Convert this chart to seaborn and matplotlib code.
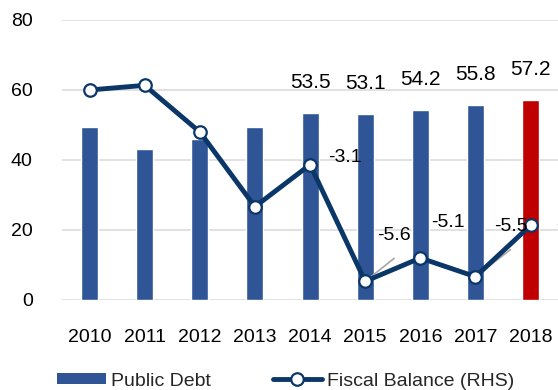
import numpy as np
import pandas as pd
import matplotlib
matplotlib.use("Agg")
import matplotlib.pyplot as plt
from matplotlib.patches import Patch
from matplotlib.lines import Line2D
import seaborn as sns

years = ["2010", "2011", "2012", "2013", "2014", "2015", "2016", "2017", "2018"]
public_debt = [49.4, 43.1, 46.0, 49.4, 53.5, 53.1, 54.2, 55.8, 57.2]
fiscal_balance = [-1.5, -1.4, -2.4, -4.0, -3.1, -5.6, -5.1, -5.5, -4.4]
debt_labels_shown = ["2014", "2015", "2016", "2017", "2018"]
fiscal_labels_shown = ["2014", "2015", "2016", "2017", "2018"]
left_ticks = [0, 20, 40, 60, 80]

BLUE = "#2F5597"
RED = "#C00000"
NAVY = "#0B3768"
GRID = "#D9D9D9"

sns.set_theme(style="white")
plt.rcParams["font.family"] = ["Liberation Sans", "DejaVu Sans"]

fig = plt.figure(figsize=(5.58, 3.90), dpi=100)
W, H = 558, 390
ax = fig.add_axes([62 / W, 90 / H, 500 / W, 280 / H])

df = pd.DataFrame({"year": years, "debt": public_debt})
palette = {y: (RED if y == "2018" else BLUE) for y in years}
sns.barplot(data=df, x="year", y="debt", hue="year", palette=palette,
            legend=False, width=0.31, saturation=1, ax=ax, zorder=2)

ax.set_ylim(0, 80)
ax.set_xlim(-0.5, len(years) - 0.5 + 0.07)
ax.set_yticks(left_ticks)
ax.yaxis.grid(True, color=GRID, linewidth=1.1, zorder=0)
ax.set_axisbelow(True)
for s in ax.spines.values():
    s.set_visible(False)
ax.tick_params(axis="both", length=0, labelsize=14, colors="black")
ax.tick_params(axis="y", pad=21)
ax.tick_params(axis="x", pad=21)
ax.set_xlabel("")
ax.set_ylabel("")

for i, y in enumerate(years):
    if y in debt_labels_shown:
        ax.annotate(f"{public_debt[i]:.1f}", xy=(i, public_debt[i]),
                    xytext=(0, 22), textcoords="offset points",
                    ha="center", va="center", fontsize=15, color="black")

ax2 = ax.twinx()
ax2.set_ylim(-6, 0)
xs = np.arange(len(years))
sns.lineplot(x=xs, y=fiscal_balance, ax=ax2, color=NAVY, linewidth=3.5,
             marker="o", markersize=9, markerfacecolor="white",
             markeredgecolor=NAVY, markeredgewidth=1.6, zorder=5)
ax2.set_yticks([])
for s in ax2.spines.values():
    s.set_visible(False)
ax2.set_ylabel("")

# label offsets in pixels (dx, dy) relative to marker
offsets_px = {
    "2014": (35, 7, False),
    "2015": (29, 46, True),
    "2016": (28, 35, False),
    "2017": (35, 50, True),
    "2018": (42, 0, False),
}
px2pt = 72 / 100
for i, y in enumerate(years):
    if y in fiscal_labels_shown:
        dx, dy, leader = offsets_px[y]
        ax2.annotate(f"{fiscal_balance[i]:.1f}", xy=(i, fiscal_balance[i]),
                     xytext=(dx * px2pt, dy * px2pt), textcoords="offset points",
                     ha="center", va="center", fontsize=14, color="black",
                     zorder=6, annotation_clip=False)
        if leader:
            ax2.annotate("", xy=(i, fiscal_balance[i]),
                         xytext=(dx * px2pt, (dy - 23) * px2pt),
                         textcoords="offset points",
                         arrowprops=dict(arrowstyle="-", color="#A6A6A6",
                                         lw=1.2, shrinkA=0, shrinkB=4),
                         zorder=4)

handles = [
    Patch(facecolor=BLUE, edgecolor="none", label="Public Debt"),
    Line2D([0], [0], color=NAVY, linewidth=3.5, marker="o", markersize=9,
           markerfacecolor="white", markeredgecolor=NAVY, markeredgewidth=1.6,
           label="Fiscal Balance (RHS)"),
]
fig.legend(handles=handles, loc="center left",
           bbox_to_anchor=(57 / W, 1 - 381 / H), ncol=2, frameon=False,
           fontsize=14, handlelength=2.5, handleheight=0.55,
           handletextpad=0.28, columnspacing=3.2, borderpad=0,
           borderaxespad=0)

fig.savefig("out.png", dpi=100)
